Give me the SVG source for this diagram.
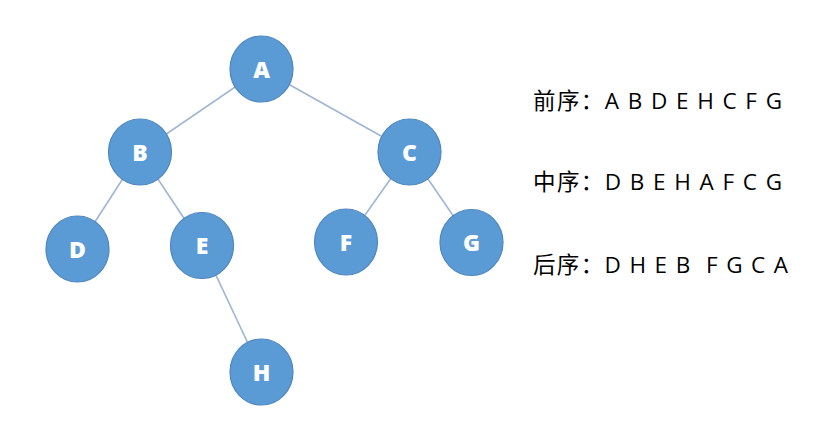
<svg xmlns="http://www.w3.org/2000/svg" width="817" height="424" viewBox="0 0 817 424">
<style>
.edge{stroke:#9fb6d2;stroke-width:1.6;fill:none}
.node ellipse{fill:#5b9bd5;stroke:#4f86bd;stroke-width:1.2}
.node text{fill:#ffffff;font-family:"Open Sans","Liberation Sans",sans-serif;font-weight:800;font-size:23px;text-anchor:middle}
.lbl{fill:#000;font-family:"Open Sans","Noto Sans CJK SC",sans-serif;font-size:22.5px}
</style>
<rect width="817" height="424" fill="#ffffff"/>
<g id="edges">
<line class="edge" x1="261.5" y1="69" x2="140" y2="152"/>
<line class="edge" x1="261.5" y1="69" x2="409.5" y2="152"/>
<line class="edge" x1="140" y1="152" x2="77.5" y2="249"/>
<line class="edge" x1="140" y1="152" x2="202" y2="245.5"/>
<line class="edge" x1="409.5" y1="152" x2="346" y2="242"/>
<line class="edge" x1="409.5" y1="152" x2="471.5" y2="242.5"/>
<line class="edge" x1="202" y1="245.5" x2="261.5" y2="372"/>
</g>
<g id="node-A" class="node"><ellipse cx="261.5" cy="69" rx="31.5" ry="33"/><text x="261.5" y="77.5">A</text></g>
<g id="node-B" class="node"><ellipse cx="140" cy="152" rx="31.5" ry="33"/><text x="140" y="160.5">B</text></g>
<g id="node-C" class="node"><ellipse cx="409.5" cy="152" rx="31.5" ry="33"/><text x="409.5" y="160.5">C</text></g>
<g id="node-D" class="node"><ellipse cx="77.5" cy="249" rx="31.5" ry="33"/><text x="77.5" y="257.5">D</text></g>
<g id="node-E" class="node"><ellipse cx="202" cy="245.5" rx="31.5" ry="33"/><text x="202" y="254">E</text></g>
<g id="node-F" class="node"><ellipse cx="346" cy="242" rx="31.5" ry="33"/><text x="346" y="250.5">F</text></g>
<g id="node-G" class="node"><ellipse cx="471.5" cy="242.5" rx="31.5" ry="33"/><text x="471.5" y="251">G</text></g>
<g id="node-H" class="node"><ellipse cx="261.5" cy="372" rx="31.5" ry="33"/><text x="261.5" y="380.5">H</text></g>
<g id="labels">
<text class="lbl" x="533" y="109" textLength="249" lengthAdjust="spacing" xml:space="preserve">前序：A B D E H C F G</text>
<text class="lbl" x="533" y="190" textLength="249" lengthAdjust="spacing" xml:space="preserve">中序：D B E H A F C G</text>
<text class="lbl" x="533" y="273" textLength="255" lengthAdjust="spacing" xml:space="preserve">后序：D H E B  F G C A</text>
</g>
</svg>
